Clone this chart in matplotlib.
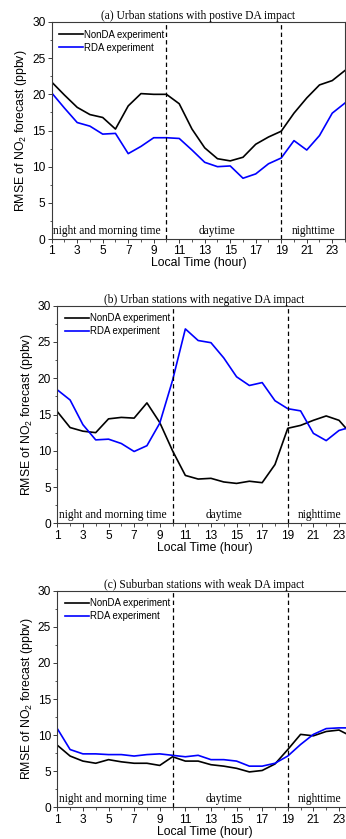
import numpy as np
import matplotlib
matplotlib.use("Agg")
import matplotlib.pyplot as plt
from matplotlib.ticker import MultipleLocator

plt.rcParams["font.family"] = ["Liberation Sans", "DejaVu Sans"]
plt.rcParams["mathtext.fontset"] = "custom"
plt.rcParams["mathtext.rm"] = "Liberation Sans"
plt.rcParams["mathtext.default"] = "regular"

hours = np.arange(1, 25)

# (a) urban stations, positive DA impact
nonda_a = [21.7, 19.9, 18.2, 17.2, 16.8, 15.2, 18.4, 20.1, 20.0, 20.0, 18.7, 15.2,
           12.6, 11.1, 10.8, 11.3, 13.1, 14.1, 14.9, 17.4, 19.5, 21.3, 21.9, 23.3]
rda_a = [20.2, 18.1, 16.1, 15.6, 14.5, 14.6, 11.8, 12.8, 14.0, 14.0, 13.9, 12.3,
         10.6, 10.0, 10.1, 8.4, 9.0, 10.4, 11.2, 13.6, 12.3, 14.3, 17.4, 18.8]

# (b) urban stations, negative DA impact
nonda_b = [15.4, 13.2, 12.7, 12.5, 14.4, 14.6, 14.5, 16.6, 13.9, 10.0, 6.6, 6.1,
           6.2, 5.7, 5.5, 5.8, 5.6, 8.1, 13.1, 13.5, 14.2, 14.8, 14.2, 12.2]
rda_b = [18.4, 17.0, 13.6, 11.5, 11.6, 11.0, 9.9, 10.7, 13.8, 19.7, 26.8, 25.2,
         24.9, 22.8, 20.2, 19.0, 19.4, 16.9, 15.8, 15.5, 12.4, 11.4, 12.8, 13.3]

# (c) suburban stations, weak DA impact
nonda_c = [8.6, 7.1, 6.4, 6.1, 6.6, 6.3, 6.1, 6.1, 5.8, 7.0, 6.4, 6.4,
           5.9, 5.7, 5.4, 4.9, 5.1, 6.0, 8.0, 10.1, 9.9, 10.5, 10.7, 9.8]
rda_c = [10.9, 8.0, 7.4, 7.4, 7.3, 7.3, 7.1, 7.3, 7.4, 7.2, 7.0, 7.2,
         6.6, 6.6, 6.4, 5.7, 5.7, 6.1, 7.1, 8.7, 10.1, 10.9, 11.0, 11.0]

titles = ["(a) Urban stations with postive DA impact",
          "(b) Urban stations with negative DA impact",
          "(c) Suburban stations with weak DA impact"]
series = [(nonda_a, rda_a), (nonda_b, rda_b), (nonda_c, rda_c)]
periods = [("night and morning time", 1.1, "left"),
           ("daytime", 14.0, "center"),
           ("nighttime", 21.5, "center")]

W, H = 346, 839
fig = plt.figure(figsize=(W / 100, H / 100), dpi=100)

# axes boxes in pixels: left, top, right(x=24), bottom
boxes = [(51.7, 22.0, 345.0, 239.0),
         (57.3, 305.7, 351.8, 523.3),
         (57.3, 590.7, 351.8, 807.3)]

spine_col = "#3a3a3a"
serif = ["Liberation Serif", "DejaVu Serif"]

for (l, t, r, b), title, (nonda, rda) in zip(boxes, titles, series):
    ax = fig.add_axes([l / W, (H - b) / H, (r - l) / W, (b - t) / H])
    ax.plot(hours, nonda, color="black", lw=1.2, label="NonDA experiment")
    ax.plot(hours, rda, color="#0000ff", lw=1.2, label="RDA experiment")
    for xv in (10, 19):
        ax.axvline(xv, color="black", lw=0.9, ls=(0, (3.5, 2.5)))
    for txt, xp, ha in periods:
        ax.text(xp, 0.3, txt, ha=ha, va="bottom", fontsize=8.3, family=serif)

    ax.set_xlim(1, 24)
    ax.set_ylim(0, 30)
    ax.set_xticks(np.arange(1, 24, 2))
    ax.xaxis.set_minor_locator(MultipleLocator(1))
    ax.yaxis.set_major_locator(MultipleLocator(5))
    ax.yaxis.set_minor_locator(MultipleLocator(2.5))
    ax.tick_params(which="major", direction="out", length=3, width=0.7,
                   colors=spine_col, labelcolor="black", labelsize=8.6, pad=1.5)
    ax.tick_params(which="minor", direction="out", length=1.8, width=0.6,
                   colors=spine_col)
    for sp in ax.spines.values():
        sp.set_color(spine_col)
        sp.set_linewidth(0.8)

    ax.set_title(title, fontsize=8.3, family=serif, pad=2)
    ax.set_xlabel("Local Time (hour)", fontsize=8.8, labelpad=0)
    ax.set_ylabel("RMSE of NO$_2$ forecast (ppbv)", fontsize=8.8, labelpad=2)
    ax.legend(loc="upper left", frameon=False, fontsize=6.9, handlelength=2.5,
              handletextpad=0.1, labelspacing=0.3, borderaxespad=0.5,
              borderpad=0.3)

fig.savefig("out.png", dpi=100)
